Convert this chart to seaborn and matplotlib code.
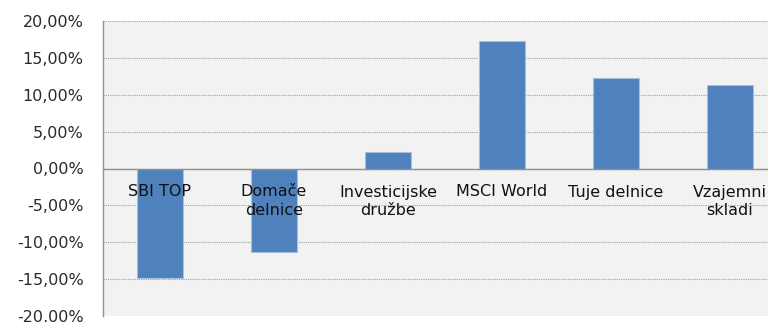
import matplotlib
matplotlib.use("Agg")
import matplotlib.pyplot as plt
import seaborn as sns
import pandas as pd
from matplotlib.ticker import FuncFormatter, FixedLocator

categories = ["SBI TOP", "Domače\ndelnice", "Investicijske\ndružbe", "MSCI World", "Tuje delnice", "Vzajemni\nskladi"]
values = [-14.9, -11.35, 2.2, 17.3, 12.3, 11.35]
yticks = [-20, -15, -10, -5, 0, 5, 10, 15, 20]

sns.set_theme(style="white")
plt.rcParams['font.family'] = ['DejaVu Sans']

df = pd.DataFrame({"cat": categories, "val": values})

fig = plt.figure(figsize=(7.68, 3.22), dpi=100)
ax = fig.add_axes([103/768, 6/322, 684/768, 295/322])
ax.set_facecolor("#F2F2F2")

sns.barplot(data=df, x="cat", y="val", color="#4F81BD", saturation=1, width=0.40,
            edgecolor="#A8C0DE", linewidth=0.8, ax=ax, zorder=3)

ax.set_ylim(-20, 20)
ax.set_xlim(-0.5, len(categories) - 0.5)
ax.set_yticks(yticks)
ax.yaxis.set_major_formatter(FuncFormatter(lambda v, p: f"{v:.2f}%".replace(".", ",")))
ax.grid(axis="y", color="#A0A0A0", linestyle=(0, (1, 1)), linewidth=0.8, zorder=0)
ax.set_xlabel("")
ax.set_ylabel("")

for s in ["top", "right"]:
    ax.spines[s].set_visible(False)
ax.spines["left"].set_color("#909090")
ax.spines["left"].set_linewidth(1.0)
ax.spines["bottom"].set_position(("data", 0))
ax.spines["bottom"].set_color("#909090")
ax.spines["bottom"].set_linewidth(1.0)
ax.spines["bottom"].set_zorder(4)

ax.tick_params(axis="y", which="major", length=5, color="#909090", direction="out",
               labelsize=11.5, labelcolor="#2a2a2a", pad=9)
ax.set_xticks(range(len(categories)))
ax.set_xticklabels([])
ax.tick_params(axis="x", which="major", length=0)
ax.xaxis.set_minor_locator(FixedLocator([i + 0.5 for i in range(len(categories) - 1)]))
ax.tick_params(axis="x", which="minor", length=5, color="#909090", direction="out")

for i, c in enumerate(categories):
    ax.annotate(c, xy=(i, 0), xytext=(0, -16), textcoords="offset pixels",
                ha="center", va="top", fontsize=11.5, color="#111111",
                linespacing=1.3, zorder=6)

fig.savefig("out.png", dpi=100, facecolor="white")
